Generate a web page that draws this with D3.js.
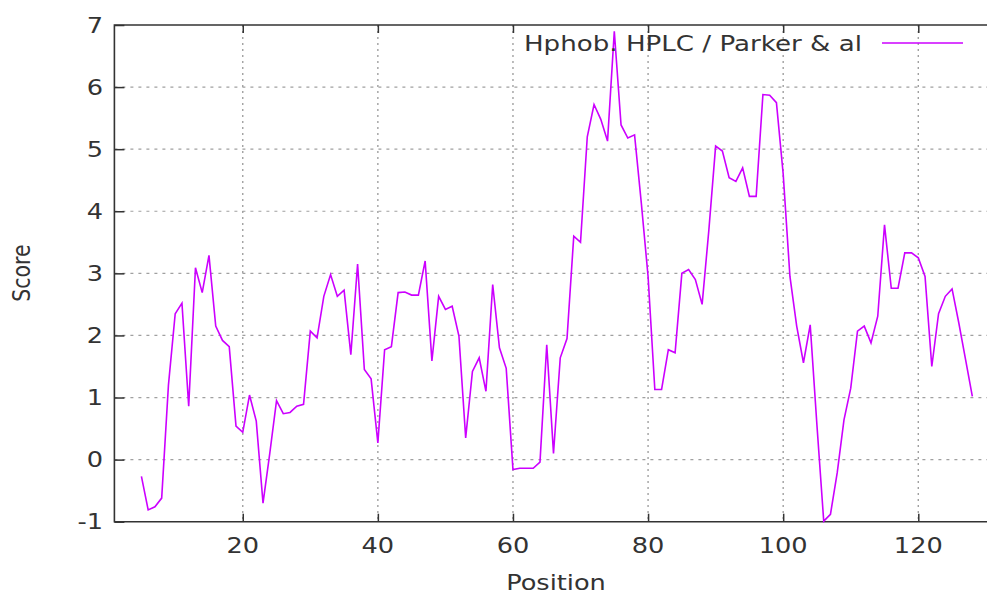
<!DOCTYPE html>
<html>
<head>
<meta charset="utf-8">
<script src="https://cdn.jsdelivr.net/npm/d3@7"></script>
<style>
  html, body { margin: 0; padding: 0; background: #fff; }
  svg { display: block; }
  text { font-family: "DejaVu Sans", sans-serif; fill: #333; }
</style>
</head>
<body>
<svg id="chart" width="987" height="593"></svg>
<script>
// Parker et al. HPLC hydrophobicity profile, one score per window centre
const firstPosition = 5;
const scores = [
  -0.27, -0.81, -0.76, -0.62, 1.20, 2.35, 2.52, 0.86, 3.09, 2.69,   // 5-14
   3.29,  2.15,  1.92,  1.82, 0.54, 0.44, 1.04, 0.62, -0.70, 0.10,  // 15-24
   0.95,  0.74,  0.76,  0.86, 0.89, 2.07, 1.96, 2.63, 2.98, 2.63,   // 25-34
   2.73,  1.69,  3.15,  1.45, 1.30, 0.27, 1.77, 1.82, 2.69, 2.70,   // 35-44
   2.65,  2.65,  3.20,  1.59, 2.63, 2.42, 2.47, 1.99, 0.35, 1.42,   // 45-54
   1.64,  1.10,  2.82,  1.80, 1.47, -0.16, -0.14, -0.14, -0.14, -0.04, // 55-64
   1.85,  0.10,  1.64,  1.95, 3.60, 3.50, 5.20, 5.72, 5.48, 5.13,   // 65-74
   6.90,  5.39,  5.18,  5.23, 4.13, 2.95, 1.13, 1.13, 1.77, 1.72,   // 75-84
   3.00,  3.06,  2.90,  2.50, 3.70, 5.05, 4.97, 4.54, 4.48, 4.70,   // 85-94
   4.24,  4.24,  5.88,  5.87, 5.75, 4.60, 2.95, 2.15, 1.56, 2.17,   // 95-104
   0.55, -0.99, -0.88, -0.21, 0.64, 1.15, 2.07, 2.15, 1.88, 2.31,   // 105-114
   3.78,  2.76,  2.76,  3.33, 3.33, 3.25, 2.95, 1.50, 2.35, 2.63,   // 115-124
   2.75,  2.20,  1.61,  1.02                                         // 125-128
];
const positions = scores.map((_, i) => firstPosition + i);

const xTicks = [20, 40, 60, 80, 100, 120];
const yTicks = [-1, 0, 1, 2, 3, 4, 5, 6, 7];
const seriesName = "Hphob. HPLC / Parker & al";
const xTitle = "Position";
const yTitle = "Score";

const data = positions.map((p, i) => ({ p, v: scores[i] }));

const svg = d3.select("#chart");
const plotL = 114.4, plotR = 992.6, plotT = 25, plotB = 521.7;
const sx = 1.25; // horizontal glyph stretch of the labels

const x = d3.scaleLinear().domain([1, 131]).range([plotL, plotR]);
const y = d3.scaleLinear().domain([-1, 7]).range([plotB, plotT]);

// grid
const grid = svg.append("g");
grid.selectAll("line.h").data(yTicks.filter(t => t > -1 && t < 7)).join("line")
  .attr("class", "h")
  .attr("x1", plotL).attr("x2", plotR)
  .attr("y1", d => y(d)).attr("y2", d => y(d))
  .attr("stroke", "#a0a0a0").attr("stroke-width", 1.2)
  .attr("stroke-dasharray", "3,5");
grid.selectAll("line.v").data(xTicks).join("line")
  .attr("class", "v")
  .attr("y1", plotT).attr("y2", plotB)
  .attr("x1", d => x(d)).attr("x2", d => x(d))
  .attr("stroke", "#a0a0a0").attr("stroke-width", 1.4)
  .attr("stroke-dasharray", "2,4");

// axes with inward ticks
const axisColor = "#333";
const yAxis = svg.append("g").attr("transform", `translate(${plotL},0)`)
  .call(d3.axisRight(y).tickValues(yTicks).tickSize(10).tickFormat(""));
const xAxisB = svg.append("g").attr("transform", `translate(0,${plotB})`)
  .call(d3.axisTop(x).tickValues(xTicks).tickSize(8).tickFormat(""));
const xAxisT = svg.append("g").attr("transform", `translate(0,${plotT})`)
  .call(d3.axisBottom(x).tickValues(xTicks).tickSize(8).tickFormat(""));
[yAxis, xAxisB, xAxisT].forEach(g => {
  g.select(".domain").remove();
  g.selectAll(".tick line").attr("stroke", axisColor).attr("stroke-width", 1.5);
});

// border (left, top, bottom)
svg.append("path")
  .attr("d", `M${plotR},${plotT}H${plotL}V${plotB}H${plotR}`)
  .attr("fill", "none").attr("stroke", axisColor).attr("stroke-width", 1.6);

// tick labels
const fs = 20.5;
svg.append("g").selectAll("text").data(yTicks).join("text")
  .attr("transform", d => `translate(103,${y(d) + 7.5}) scale(${sx},1)`)
  .attr("text-anchor", "end").attr("font-size", fs)
  .text(d => d);
svg.append("g").selectAll("text").data(xTicks).join("text")
  .attr("transform", d => `translate(${x(d)},${plotB + 31}) scale(${sx},1)`)
  .attr("text-anchor", "middle").attr("font-size", fs)
  .text(d => d);

// axis titles
svg.append("text")
  .attr("transform", `translate(556,${plotB + 68}) scale(${sx},1)`)
  .attr("text-anchor", "middle").attr("font-size", fs).text(xTitle);
svg.append("text")
  .attr("transform", `translate(30,273) scale(${sx},1) rotate(-90)`)
  .attr("text-anchor", "middle").attr("font-size", fs).text(yTitle);

// profile line
const lineColor = "#cc00ff";
svg.append("path").datum(data)
  .attr("fill", "none").attr("stroke", lineColor).attr("stroke-width", 1.6)
  .attr("stroke-linejoin", "miter")
  .attr("d", d3.line().x(d => x(d.p)).y(d => y(d.v)));

// key
svg.append("text")
  .attr("transform", `translate(862,51) scale(1.275,1)`)
  .attr("text-anchor", "end").attr("font-size", fs).text(seriesName);
svg.append("line")
  .attr("x1", 882).attr("x2", 963).attr("y1", 43).attr("y2", 43)
  .attr("stroke", lineColor).attr("stroke-width", 1.6);
</script>
</body>
</html>
